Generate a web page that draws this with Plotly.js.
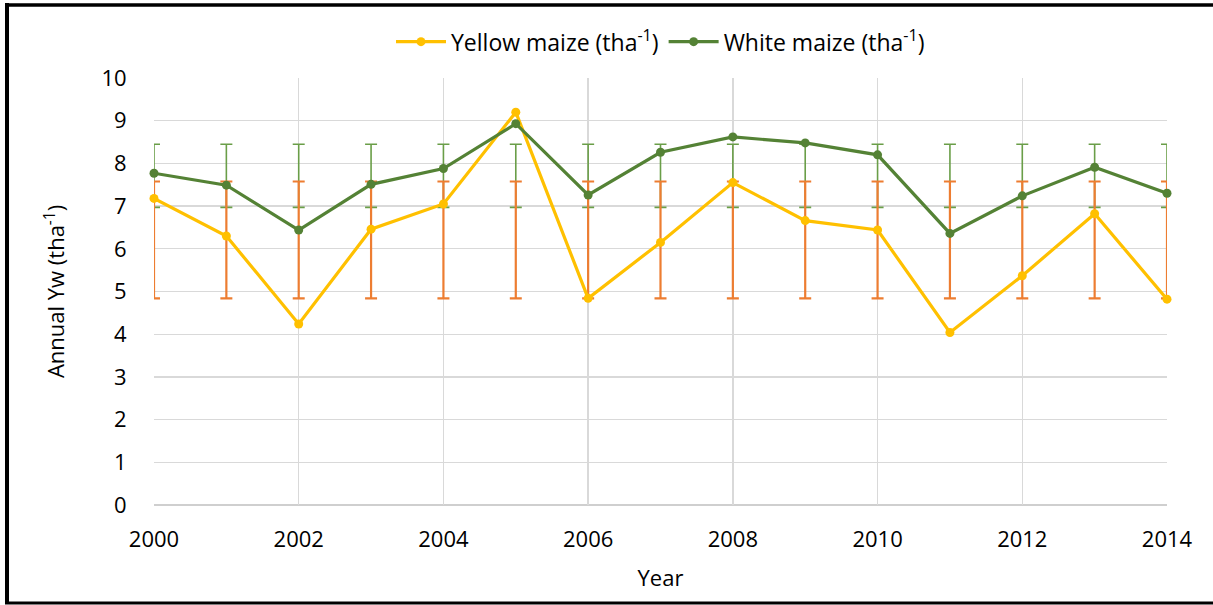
<!DOCTYPE html>
<html>
<head>
<meta charset="utf-8">
<script src="https://cdn.plot.ly/plotly-3.0.1.min.js"></script>
<style>html,body{margin:0;padding:0;background:#fff;} #chart{width:1213px;height:605px;}</style>
</head>
<body>
<div id="chart"></div>
<script>
const years = [2000,2001,2002,2003,2004,2005,2006,2007,2008,2009,2010,2011,2012,2013,2014];
const yellowMaize = [7.18,6.30,4.24,6.46,7.05,9.20,4.84,6.15,7.55,6.66,6.44,4.04,5.37,6.82,4.82];
const whiteMaize  = [7.77,7.49,6.44,7.51,7.88,8.93,7.26,8.26,8.62,8.48,8.20,6.36,7.24,7.91,7.30];
const xTickVals = [2000,2002,2004,2006,2008,2010,2012,2014];
const yellowName = 'Yellow maize (tha<sup>-1</sup>)';
const whiteName = 'White maize (tha<sup>-1</sup>)';

function mean(a){return a.reduce((s,v)=>s+v,0)/a.length;}
function sd(a){const m=mean(a);return Math.sqrt(a.reduce((s,v)=>s+(v-m)*(v-m),0)/(a.length-1));}

const yMean = mean(yellowMaize), ySd = sd(yellowMaize);
const wMean = mean(whiteMaize), wSd = sd(whiteMaize);

const traces = [
  {x: years, y: years.map(()=>wMean), mode:'markers', marker:{opacity:0,size:1},
   error_y:{type:'constant', value:wSd, color:'#6a9e48', thickness:1.6, width:6},
   showlegend:false, hoverinfo:'skip', cliponaxis:true},
  {x: years, y: years.map(()=>yMean), mode:'markers', marker:{opacity:0,size:1},
   error_y:{type:'constant', value:ySd, color:'#ED7D31', thickness:2.2, width:6},
   showlegend:false, hoverinfo:'skip', cliponaxis:true},
  {x: years, y: yellowMaize, name: yellowName, mode:'lines+markers',
   line:{color:'#FFC000', width:3.2}, marker:{color:'#FFC000', size:9}, cliponaxis:false},
  {x: years, y: whiteMaize, name: whiteName, mode:'lines+markers',
   line:{color:'#548235', width:3.2}, marker:{color:'#548235', size:9}, cliponaxis:false}
];

const layout = {
  width:1213, height:605,
  margin:{l:154, r:46, t:78, b:100},
  paper_bgcolor:'#ffffff', plot_bgcolor:'#ffffff',
  font:{family:'"Open Sans", sans-serif', color:'#000000'},
  showlegend:true,
  legend:{orientation:'h', x:0.5, xanchor:'center', y:1.085, yanchor:'middle',
          font:{size:23, color:'#000'}, itemwidth:50, bgcolor:'rgba(0,0,0,0)'},
  xaxis:{range:[2000,2014], tickvals:xTickVals, ticktext:xTickVals.map(String),
         showgrid:true, gridcolor:'#d9d9d9', gridwidth:1.3, zeroline:false,
         showline:false, ticks:'outside', ticklen:15, tickcolor:'rgba(0,0,0,0)',
         tickfont:{size:22},
         title:{text:'Year', font:{size:22}, standoff:18}, automargin:false, fixedrange:true},
  yaxis:{range:[0,10], dtick:1, tick0:0, showgrid:true, gridcolor:'#d9d9d9', gridwidth:1.3,
         zeroline:false, showline:false, ticks:'outside', ticklen:22, tickcolor:'rgba(0,0,0,0)',
         tickfont:{size:22},
         title:{text:'Annual Yw (tha<sup>-1</sup>)', font:{size:22}, standoff:30},
         automargin:false, fixedrange:true},
  shapes:[
    {type:'line', xref:'paper', yref:'paper', x0:0, x1:1, y0:0, y1:0, line:{color:'#bfbfbf', width:1.5}, layer:'below'},
    {type:'line', xref:'paper', yref:'paper', x0:(7-154)/1013, x1:(7-154)/1013, y0:(505-3)/427, y1:(505-604)/427, line:{color:'#000', width:4}},
    {type:'line', xref:'paper', yref:'paper', x0:(5-154)/1013, x1:(1213-154)/1013, y0:(505-5)/427, y1:(505-5)/427, line:{color:'#000', width:3.5}},
    {type:'line', xref:'paper', yref:'paper', x0:(5-154)/1013, x1:(1213-154)/1013, y0:(505-603)/427, y1:(505-603)/427, line:{color:'#000', width:3}}
  ]
};

Plotly.newPlot('chart', traces, layout, {displayModeBar:false, staticPlot:true});
</script>
</body>
</html>
